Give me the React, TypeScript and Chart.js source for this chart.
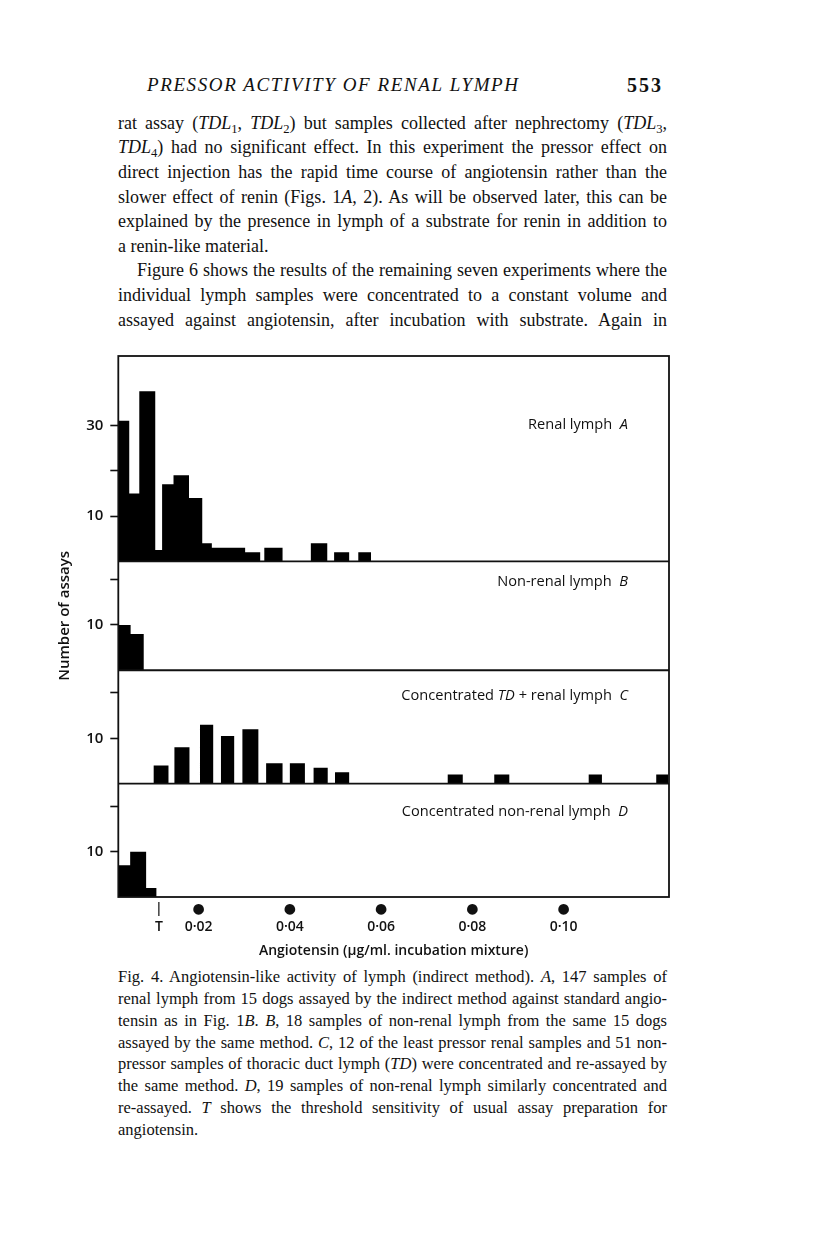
import React, { useEffect, useRef } from 'react';
import { Chart, registerables } from 'chart.js';

Chart.register(...registerables);

// ---- Data (x: angiotensin µg/ml incubation mixture, y: number of assays) ----
// Panel A: renal lymph
const binStartA = [0.0024, 0.0048, 0.0070, 0.0105, 0.0120, 0.0145, 0.0179, 0.0208, 0.0229, 0.0302, 0.0344, 0.0446, 0.0497, 0.0550];
const binEndA = [0.0048, 0.0070, 0.0105, 0.0120, 0.0145, 0.0179, 0.0208, 0.0229, 0.0302, 0.0335, 0.0384, 0.0482, 0.0530, 0.0578];
const countA = [31, 15, 37.5, 2.5, 17, 19, 14, 4, 3, 2, 3, 4, 2, 2];

// Panel B: non-renal lymph
const binStartB = [0.0024, 0.0051];
const binEndB = [0.0051, 0.0080];
const countB = [10, 8];

// Panel C: concentrated TD + renal lymph
const binStartC = [0.0101, 0.0147, 0.0203, 0.0249, 0.0296, 0.0348, 0.0400, 0.0452, 0.0499, 0.0746, 0.0848, 0.1055, 0.1203];
const binEndC = [0.0134, 0.0180, 0.0232, 0.0278, 0.0331, 0.0384, 0.0433, 0.0483, 0.0530, 0.0779, 0.0881, 0.1084, 0.1230];
const countC = [4, 8, 13, 10.5, 12, 4.5, 4.5, 3.5, 2.5, 2, 2, 2, 2];

// Panel D: concentrated non-renal lymph
const binStartD = [0.0024, 0.0050, 0.0085];
const binEndD = [0.0050, 0.0085, 0.0108];
const countD = [7, 10, 2];

// Axis ticks
const thresholdT = 0.0113;
const xTickValues = [0.02, 0.04, 0.06, 0.08, 0.10];
const xTickLabels = ['0·02', '0·04', '0·06', '0·08', '0·10'];
const yTickValuesA = [10, 20, 30];
const yTickLabelsA = ['10', '', '30'];
const yTickValuesOther = [10, 20];
const yTickLabelsOther = ['10', ''];

const panelLabels = [
  { axis: 'yA', at: 30.1, parts: [['Renal lymph  ', false], ['A', true]] },
  { axis: 'yB', at: 19.5, parts: [['Non-renal lymph  ', false], ['B', true]] },
  { axis: 'yC', at: 19.4, parts: [['Concentrated ', false], ['TD', true], [' + renal lymph  ', false], ['C', true]] },
  { axis: 'yD', at: 18.7, parts: [['Concentrated non-renal lymph  ', false], ['D', true]] },
];

const SANS = "'Open Sans', 'DejaVu Sans', sans-serif";
const SERIF = "'Liberation Serif', 'Times New Roman', serif";

function histPoints(starts: number[], ends: number[], counts: number[]) {
  const pts: { x: number; y: number }[] = [];
  starts.forEach((s, i) => {
    pts.push({ x: s, y: 0 }, { x: s, y: counts[i] }, { x: ends[i], y: counts[i] }, { x: ends[i], y: 0 });
  });
  return pts;
}

function histDataset(label: string, starts: number[], ends: number[], counts: number[], axis: string) {
  return {
    label,
    data: histPoints(starts, ends, counts),
    yAxisID: axis,
    xAxisID: 'x',
    borderWidth: 0,
    borderColor: '#000',
    backgroundColor: '#000',
    fill: 'origin',
    pointRadius: 0,
    tension: 0,
  };
}

function yScale(max: number, tickValues: number[], tickLabels: string[], extra: any = {}) {
  return {
    type: 'linear',
    position: 'left',
    stack: 'panels',
    stackWeight: max,
    min: 0,
    max,
    afterBuildTicks: (s: any) => {
      s.ticks = tickValues.map((v) => ({ value: v }));
    },
    afterFit: (s: any) => {
      s.width = 78.3;
    },
    ticks: {
      autoSkip: false,
      padding: 7,
      color: '#111',
      font: { family: SANS, size: 15, weight: '600' },
      callback: (v: number) => {
        const i = tickValues.indexOf(v);
        return i >= 0 ? tickLabels[i] : '';
      },
    },
    grid: {
      display: true,
      drawOnChartArea: false,
      drawTicks: true,
      tickLength: 8,
      tickWidth: 1.6,
      tickColor: '#111',
    },
    border: { display: false },
    ...extra,
  };
}

const framePlugin = {
  id: 'panelFrame',
  afterDatasetsDraw(chart: any) {
    const { ctx, chartArea } = chart;
    const { left, top, right, bottom } = chartArea;
    ctx.save();
    ctx.strokeStyle = '#111';
    ctx.lineWidth = 1.8;
    ctx.strokeRect(left, top, right - left, bottom - top);
    ['yA', 'yB', 'yC'].forEach((id) => {
      const s = chart.scales[id];
      ctx.beginPath();
      ctx.moveTo(left, s.bottom);
      ctx.lineTo(right, s.bottom);
      ctx.stroke();
    });
    // panel labels
    ctx.fillStyle = '#111';
    ctx.textBaseline = 'middle';
    ctx.textAlign = 'left';
    const xRight = right - 41;
    panelLabels.forEach((lab) => {
      const y = chart.scales[lab.axis].getPixelForValue(lab.at);
      const fonts = lab.parts.map(([, it]) => `${it ? 'italic ' : ''}500 14.6px ${SANS}`);
      let total = 0;
      const widths = lab.parts.map(([t], i) => {
        ctx.font = fonts[i];
        const w = ctx.measureText(t as string).width;
        total += w;
        return w;
      });
      let x = xRight - total;
      lab.parts.forEach(([t], i) => {
        ctx.font = fonts[i];
        ctx.fillText(t as string, x, y);
        x += widths[i];
      });
    });
    ctx.restore();
  },
};

function Figure() {
  const ref = useRef<HTMLCanvasElement>(null);
  useEffect(() => {
    if (!ref.current) return;
    const chart = new Chart(ref.current, {
      type: 'line',
      data: {
        datasets: [
          histDataset('A', binStartA, binEndA, countA, 'yA'),
          histDataset('B', binStartB, binEndB, countB, 'yB'),
          histDataset('C', binStartC, binEndC, countC, 'yC'),
          histDataset('D', binStartD, binEndD, countD, 'yD'),
        ],
      },
      options: {
        animation: false,
        responsive: false,
        devicePixelRatio: 1,
        layout: { padding: { left: 0, top: 9, right: 11, bottom: 0 } },
        plugins: { legend: { display: false }, tooltip: { enabled: false } },
        scales: {
          x: {
            type: 'linear',
            position: 'bottom',
            min: 0.0024,
            max: 0.1231,
            afterBuildTicks: (s: any) => {
              s.ticks = [thresholdT, ...xTickValues].map((v) => ({ value: v }));
            },
            afterFit: (s: any) => {
              s.height = 67;
            },
            grid: { display: false, drawTicks: false },
            border: { display: false },
            ticks: {
              autoSkip: false,
              maxRotation: 0,
              minRotation: 0,
              padding: 3,
              color: '#111',
              font: { family: SANS, size: 14, weight: '600', lineHeight: 1.3 },
              callback: (v: number) => {
                if (v === thresholdT) return ['|', 'T'];
                const i = xTickValues.indexOf(v);
                return ['●', i >= 0 ? xTickLabels[i] : ''];
              },
            },
            title: {
              display: true,
              text: 'Angiotensin (µg/ml. incubation mixture)',
              color: '#111',
              font: { family: SANS, size: 14, weight: '600' },
              padding: { top: 0, bottom: 4.6 },
            },
          },
          yD: yScale(25, yTickValuesOther, yTickLabelsOther),
          yC: yScale(25, yTickValuesOther, yTickLabelsOther),
          yB: yScale(24, yTickValuesOther, yTickLabelsOther, {
            title: {
              display: true,
              text: 'Number of assays',
              color: '#111',
              font: { family: SANS, size: 15, weight: '600' },
              padding: { top: 16, bottom: 0 },
            },
          }),
          yA: yScale(45.3, yTickValuesA, yTickLabelsA),
        },
      } as any,
      plugins: [framePlugin],
    } as any);
    return () => chart.destroy();
  }, []);
  return (
    <canvas
      ref={ref}
      width={640}
      height={624}
      style={{ position: 'absolute', left: 32, top: 332, width: 640, height: 624 }}
    />
  );
}

const Sub = ({ children }: any) => (
  <span style={{ fontSize: '0.7em', position: 'relative', top: '0.32em', lineHeight: 0 }}>{children}</span>
);

function TextLine({ cy, left = 118, width = 549, lh, size, justify = true, children, style = {} }: any) {
  return (
    <div
      style={{
        position: 'absolute',
        left: left - 8,
        top: cy - lh / 2 - 8,
        width,
        height: lh,
        lineHeight: `${lh}px`,
        fontSize: size,
        fontFamily: SERIF,
        color: '#111',
        whiteSpace: 'nowrap',
        textAlign: justify ? 'justify' : 'left',
        textAlignLast: justify ? 'justify' : 'left',
        ...style,
      }}
    >
      {children}
    </div>
  );
}

const bodyLines: any[] = [
  <>rat assay (<i>TDL</i><Sub>1</Sub>, <i>TDL</i><Sub>2</Sub>) but samples collected after nephrectomy (<i>TDL</i><Sub>3</Sub>,</>,
  <><i>TDL</i><Sub>4</Sub>) had no significant effect. In this experiment the pressor effect on</>,
  <>direct injection has the rapid time course of angiotensin rather than the</>,
  <>slower effect of renin (Figs. 1<i>A</i>, 2). As will be observed later, this can be</>,
  <>explained by the presence in lymph of a substrate for renin in addition to</>,
  <>a renin-like material.</>,
  <>Figure 6 shows the results of the remaining seven experiments where the</>,
  <>individual lymph samples were concentrated to a constant volume and</>,
  <>assayed against angiotensin, after incubation with substrate. Again in</>,
];

const captionLines: any[] = [
  <>Fig. 4. Angiotensin-like activity of lymph (indirect method). <i>A</i>, 147 samples of</>,
  <>renal lymph from 15 dogs assayed by the indirect method against standard angio-</>,
  <>tensin as in Fig. 1<i>B</i>. <i>B</i>, 18 samples of non-renal lymph from the same 15 dogs</>,
  <>assayed by the same method. <i>C</i>, 12 of the least pressor renal samples and 51 non-</>,
  <>pressor samples of thoracic duct lymph (<i>TD</i>) were concentrated and re-assayed by</>,
  <>the same method. <i>D</i>, 19 samples of non-renal lymph similarly concentrated and</>,
  <>re-assayed. <i>T</i> shows the threshold sensitivity of usual assay preparation for</>,
  <>angiotensin.</>,
];

export default function App() {
  return (
    <div style={{ position: 'relative', width: 800, height: 1242, background: '#fff' }}>
      <div
        style={{
          position: 'absolute',
          left: 147 - 8,
          top: 85 - 12 - 8,
          height: 24,
          lineHeight: '24px',
          fontSize: 19,
          fontFamily: SERIF,
          fontStyle: 'italic',
          letterSpacing: '1.6px',
          whiteSpace: 'nowrap',
          color: '#111',
        }}
      >
        PRESSOR ACTIVITY OF RENAL LYMPH
      </div>
      <div
        style={{
          position: 'absolute',
          left: 627 - 8,
          top: 85 - 12 - 8,
          height: 24,
          lineHeight: '24px',
          fontSize: 20,
          fontWeight: 'bold',
          letterSpacing: '2px',
          fontFamily: SERIF,
          color: '#111',
        }}
      >
        553
      </div>
      {bodyLines.map((content, i) => (
        <TextLine
          key={`b${i}`}
          cy={123 + 24.6 * i}
          lh={24.6}
          size={18}
          left={i === 6 ? 137 : 118}
          width={i === 6 ? 530 : 549}
          justify={i !== 5}
        >
          {content}
        </TextLine>
      ))}
      <Figure />
      {captionLines.map((content, i) => (
        <TextLine key={`c${i}`} cy={977 + 21.8 * i} lh={21.8} size={16.5} justify={i !== 7}>
          {content}
        </TextLine>
      ))}
    </div>
  );
}
